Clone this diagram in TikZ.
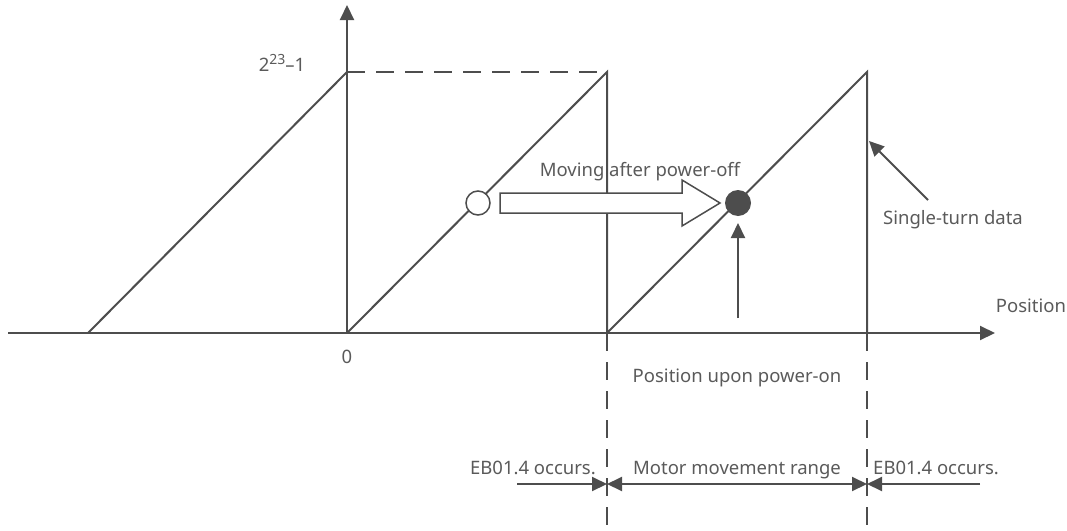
\documentclass[tikz,border=0pt]{standalone}
\usepackage{fontspec}
\setmainfont{Noto Sans}
\usetikzlibrary{arrows.meta}
\definecolor{ln}{HTML}{4D4D4D}
\definecolor{tx}{HTML}{5A5A5A}
\begin{document}
\begin{tikzpicture}[x=1pt,y=-1pt,
  line/.style={draw=ln,line width=2pt},
  dashln/.style={draw=ln,line width=2pt,dash pattern=on 18pt off 11pt},
  arr/.style={line,-{Triangle[length=15pt,width=14pt]}},
  darr/.style={line,{Triangle[length=15pt,width=14pt]}-{Triangle[length=15pt,width=14pt]}},
  lbl/.style={text=tx,font=\fontsize{18.5}{22}\selectfont,inner sep=0pt}]
\useasboundingbox (0,0) rectangle (1067,530);
% key coordinates
\coordinate (xs) at (8,333);
\coordinate (xe) at (995,333);
\coordinate (O) at (347,333);
\coordinate (ytop) at (347,5);
\coordinate (A0) at (88,333);
\coordinate (T0) at (347,72);
\coordinate (A1) at (607,333);
\coordinate (T1) at (607,72);
\coordinate (A2) at (867,333);
\coordinate (T2) at (867,72);
\coordinate (B1) at (607,530);
\coordinate (B2) at (867,530);
% axes
\draw[arr] (xs) -- (xe);
\draw[arr] (O) -- (ytop);
% ramps
\draw[line] (A0) -- (T0);
\draw[line] (O) -- (T1) -- (A1) -- (T2) -- (A2);
\draw[dashln] (T0) -- (T1);
\draw[dashln] (A1) -- (B1);
\draw[dashln] (A2) -- (B2);
% labels on axes
\node[lbl,anchor=base] (top) at (282,71) {2\raisebox{7pt}{\fontsize{14}{14}\selectfont 23}–1};
\node[lbl] (zero) at (347,357) {0};
\node[lbl] (pos) at (1031,306) {Position};
% circles
\node[circle,draw=ln,line width=1.5pt,fill=white,minimum size=24pt,inner sep=0pt] (c1) at (478,203) {};
\node[circle,fill=ln,minimum size=26pt,inner sep=0pt] (c2) at (738,203) {};
% hollow arrow
\draw[draw=ln,line width=1.5pt,fill=white] (500,193) -- (682,193) -- (682,180) -- (720,203) -- (682,226) -- (682,213) -- (500,213) -- cycle;
\node[lbl,anchor=base] (move) at (640,176) {Moving after power-off};
% power-on
\coordinate (pon) at (738,318);
\coordinate (pont) at (738,223);
\draw[arr] (pon) -- (pont);
\node[lbl] (ponl) at (737,378) {Position upon power-on};
% single-turn
\coordinate (st) at (928,200);
\coordinate (stt) at (869,141);
\draw[arr] (st) -- (stt);
\node[lbl] (stl) at (953,220) {Single-turn data};
% bottom
\coordinate (L0) at (517,484);
\coordinate (L1) at (607,484);
\coordinate (L2) at (867,484);
\coordinate (L3) at (980,484);
\draw[arr] (L0) -- (L1);
\draw[darr] (L1) -- (L2);
\draw[arr] (L3) -- (L2);
\node[lbl,anchor=base east] (eb1) at (596,474) {EB01.4 occurs.};
\node[lbl,anchor=base] (mmr) at (737,474) {Motor movement range};
\node[lbl,anchor=base west] (eb2) at (873,474) {EB01.4 occurs.};
\end{tikzpicture}
\end{document}
